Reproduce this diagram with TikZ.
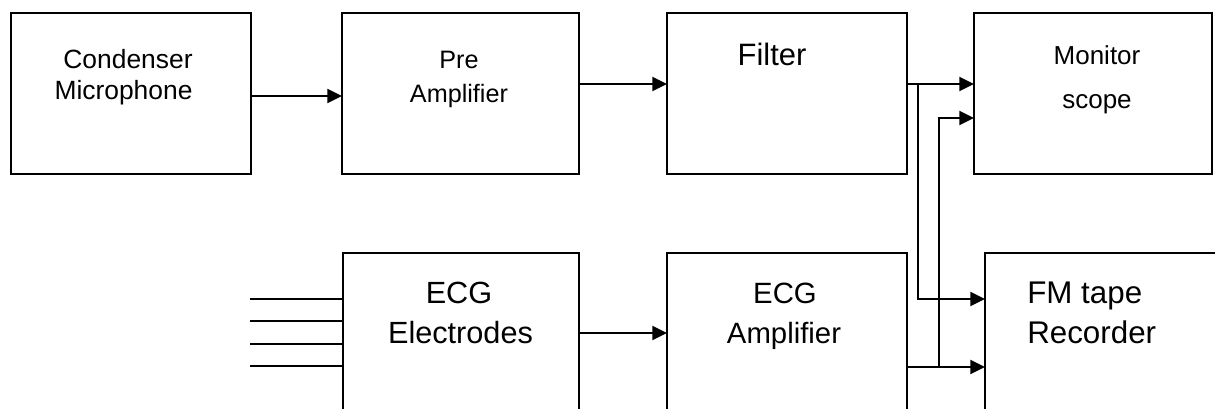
\documentclass[tikz,border=0pt]{standalone}
\usepackage{fontspec}
\setmainfont{Liberation Sans}
\usetikzlibrary{arrows.meta}
\begin{document}
\begin{tikzpicture}[x=0.75pt,y=-0.75pt,
  box/.style={draw, line width=1.5pt, inner sep=0pt, outer sep=0pt, minimum height=120.75pt},
  lowbox/.style={draw, line width=1.5pt, inner sep=0pt, outer sep=0pt, minimum height=150pt},
  wire/.style={line width=1.5pt},
  arr/.style={wire, -{Triangle[length=11pt,width=10.5pt]}},
  lbl/.style={inner sep=0pt, anchor=base},
  fsmall/.style={font=\fontsize{19.8}{24}\selectfont},
  fpre/.style={font=\fontsize{18.9}{23}\selectfont},
  ffilter/.style={font=\fontsize{23.2}{28}\selectfont},
  fmon/.style={font=\fontsize{19.5}{24}\selectfont},
  fbig/.style={font=\fontsize{23}{28}\selectfont},
  famp/.style={font=\fontsize{22}{27}\selectfont},
  ffm/.style={font=\fontsize{23.5}{28}\selectfont}]
\useasboundingbox (0,0) rectangle (1215,409);
\clip (0,0) rectangle (1215,409);

% top row boxes
\node[box, minimum width=180pt]   (b1) at (131,93.5) {};
\node[box, minimum width=177.75pt] (b2) at (460.5,93.5) {};
\node[box, minimum width=180pt]   (b3) at (787,93.5) {};
\node[box, minimum width=178.5pt] (b4) at (1093,93.5) {};
% bottom row boxes (run off the bottom edge)
\node[lowbox, minimum width=177pt] (b5) at (461,353) {};
\node[lowbox, minimum width=180pt] (b6) at (787,353) {};
\node[lowbox, minimum width=210pt] (b7) at (1125,353) {};

% labels
\node[lbl, fsmall] (t1a) at (128,68.5) {Condenser};
\node[lbl, fsmall] (t1b) at (123.5,99.5) {Microphone};
\node[lbl, fpre] (t2a) at (459,69) {Pre};
\node[lbl, fpre] (t2b) at (459,103) {Amplifier};
\node[lbl, ffilter] (t3) at (772,66) {Filter};
\node[lbl, fmon] (t4a) at (1097,65) {Monitor};
\node[lbl, fmon] (t4b) at (1097,109) {scope};
\node[lbl, fbig] (t5a) at (459,304) {ECG};
\node[lbl, fbig] (t5b) at (460.5,344) {Electrodes};
\node[lbl, famp] (t6a) at (785,304) {ECG};
\node[lbl, famp] (t6b) at (784,344) {Amplifier};
\node[lbl, ffm, anchor=base west] (t7a) at (1027,304) {FM tape};
\node[lbl, ffm, anchor=base west] (t7b) at (1027,344) {Recorder};

% connectors
\draw[arr] (b1.east |- 0,96) -- (b2.west |- 0,96);
\draw[arr] (b2.east |- 0,84) -- (b3.west |- 0,84);
\draw[arr] (b3.east |- 0,84) -- (b4.west |- 0,84);
\coordinate (j1) at (918,84);
\draw[arr] (j1) |- (b7.west |- 0,299);
\draw[arr] (b5.east |- 0,333) -- (b6.west |- 0,333);
\draw[arr] (b6.east |- 0,367) -- (b7.west |- 0,367);
\coordinate (j2) at (939,367);
\draw[arr] (j2) |- (b4.west |- 0,118);

% electrode leads
\foreach \yy [count=\i] in {299,321,344,366} {
  \coordinate (e\i) at (250,\yy);
  \draw[wire] (e\i) -- (b5.west |- e\i);
}
\end{tikzpicture}
\end{document}
